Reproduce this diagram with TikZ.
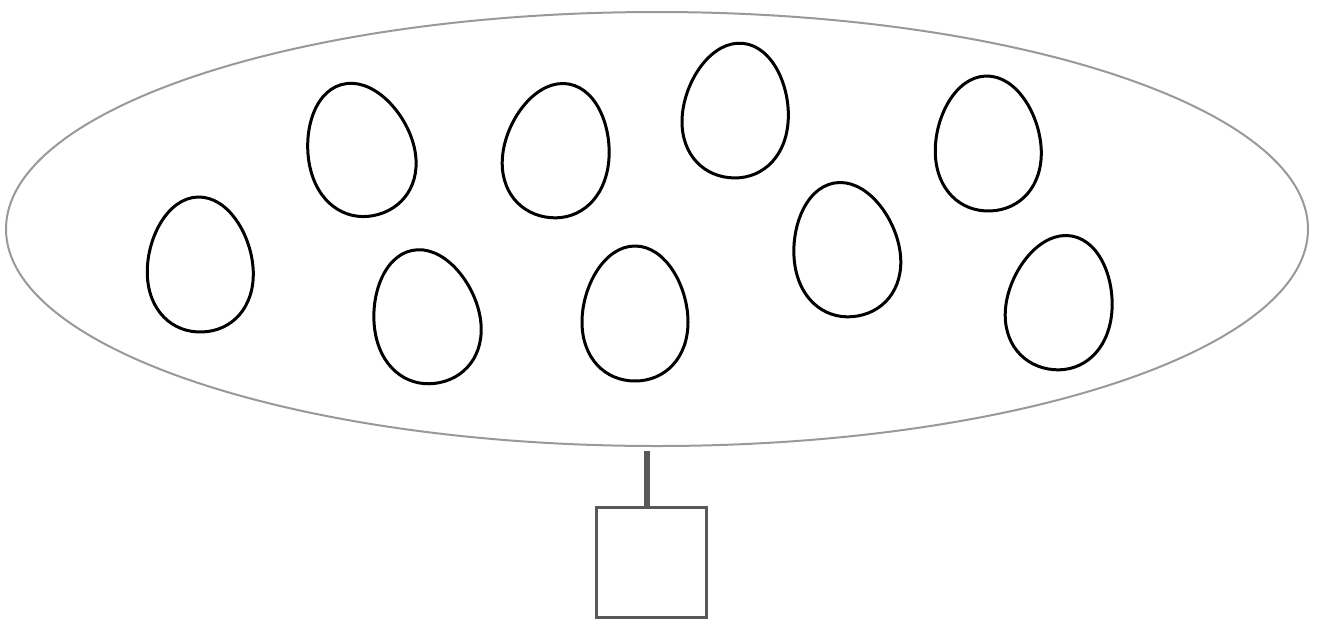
\documentclass[tikz,border=0pt]{standalone}
\usepackage{xcolor}
\usepackage{tikz}
\usetikzlibrary{shapes.geometric}

\definecolor{poolgray}{HTML}{999999}
\definecolor{boxgray}{HTML}{595959}

\begin{document}
\begin{tikzpicture}[x=1pt,y=-1pt,thick,
    pool node/.style={ellipse,draw=poolgray,line width=2pt,minimum width=1302pt,minimum height=434pt,inner sep=0pt},
    box node/.style={rectangle,draw=boxgray,line width=3pt,minimum size=110pt,inner sep=0pt},
    link/.style={draw=boxgray,line width=5.5pt},
    egg line/.style={draw=black,line width=3pt},
    egg/.pic={\draw[egg line] (0,-68) .. controls (31,-68) and (53,-27) .. (53,8) .. controls (53,44) and (30,67) .. (0,67) .. controls (-30,67) and (-53,44) .. (-53,8) .. controls (-53,-27) and (-31,-68) .. (0,-68) -- cycle;}]
    \useasboundingbox (0,0) rectangle (1317,619);

    \node[pool node] (pool) at (657,229) {};
    \node[box node] (box) at (651,562) {};

    \pic[rotate=2] at (200,265) {egg};
    \pic[rotate=16] at (360,150) {egg};
    \pic[rotate=-10] at (557,151) {egg};
    \pic[rotate=-6] at (736,111) {egg};
    \pic[rotate=2] at (988,144) {egg};
    \pic[rotate=12] at (426,317) {egg};
    \pic[rotate=0] at (635,314) {egg};
    \pic[rotate=10] at (846,250) {egg};
    \pic[rotate=-10] at (1060,303) {egg};

    \draw[link] ([xshift=-4pt]box.north) -- ([xshift=-4pt,yshift=-4pt]box.north |- pool.south);
  \end{tikzpicture}
\end{document}
